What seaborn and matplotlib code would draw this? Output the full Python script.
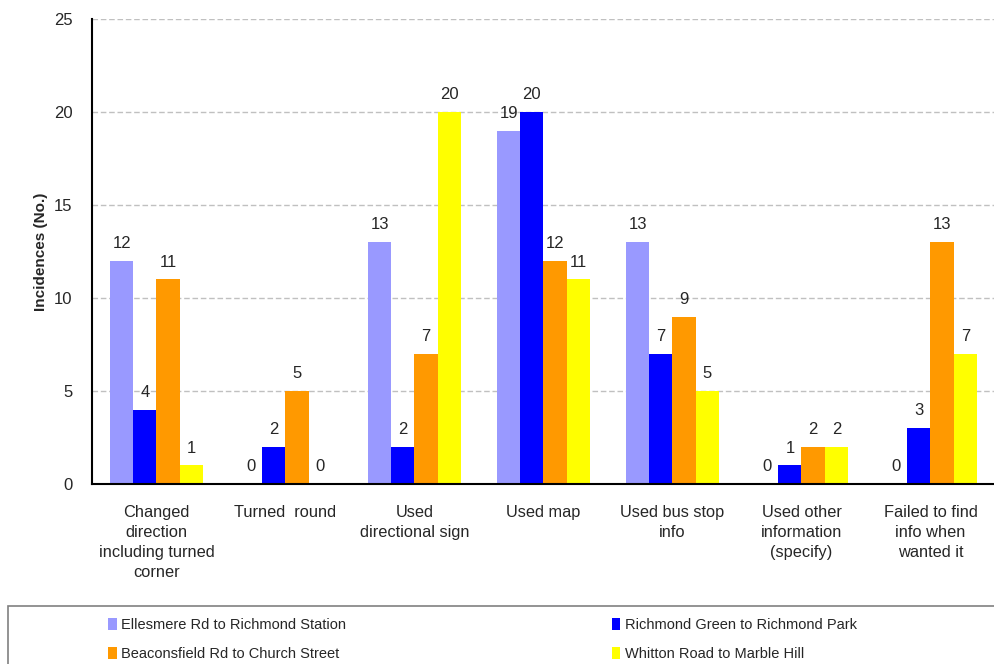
import matplotlib
matplotlib.use("Agg")
import matplotlib.pyplot as plt
import seaborn as sns
import pandas as pd
import numpy as np
from matplotlib.patches import Patch, Rectangle

categories = ["Changed\ndirection\nincluding turned\ncorner", "Turned  round",
              "Used\ndirectional sign", "Used map", "Used bus stop\ninfo",
              "Used other\ninformation\n(specify)", "Failed to find\ninfo when\nwanted it"]
series = ["Ellesmere Rd to Richmond Station", "Richmond Green to Richmond Park",
          "Beaconsfield Rd to Church Street", "Whitton Road to Marble Hill"]
ellesmere = [12, 0, 13, 19, 13, 0, 0]
richmond_green = [4, 2, 2, 20, 7, 1, 3]
beaconsfield = [11, 5, 7, 12, 9, 2, 13]
whitton = [1, 0, 20, 11, 5, 2, 7]
colors = ["#9999FF", "#0000FF", "#FF9900", "#FFFF00"]
yticks = [0, 5, 10, 15, 20, 25]

sns.set_style("white")
plt.rcParams['font.family'] = ['Liberation Sans', 'DejaVu Sans']

rows = []
for s, vals in zip(series, [ellesmere, richmond_green, beaconsfield, whitton]):
    for c, v in zip(categories, vals):
        rows.append({"cat": c, "series": s, "value": v})
df = pd.DataFrame(rows)

fig = plt.figure(figsize=(9.95, 6.64), dpi=100)
ax = fig.add_axes([92/995, (664-484)/664, (995-92)/995, (484-19)/664])
sns.barplot(data=df, x="cat", y="value", hue="series", palette=colors,
            width=0.72, gap=0, ax=ax, legend=False, saturation=1, edgecolor="none")

for cont in ax.containers:
    ax.bar_label(cont, fmt="%d", padding=7, fontsize=12)

ax.set_ylim(0, 25)
ax.set_yticks(yticks)
ax.set_xlim(-0.5, 6.5)
ax.set_xticks(np.arange(-0.5, 7, 1))
ax.set_xticklabels([])
ax.set_xticks(np.arange(7), minor=True)
ax.set_xticklabels(categories, minor=True, fontsize=11.8)
ax.tick_params(axis="x", which="minor", length=0, pad=15)
ax.tick_params(axis="x", which="major", length=5, width=1, direction="out", color="black")
ax.tick_params(axis="y", length=6, width=1, direction="out", color="black", labelsize=12, pad=8)
for lab in ax.get_xticklabels(minor=True):
    lab.set_verticalalignment("top")
    lab.set_linespacing(1.42)
ax.set_xlabel("")
ax.set_ylabel("Incidences (No.)", fontsize=11, fontweight="bold", labelpad=4)
ax.yaxis.grid(True, linestyle=(0, (4, 2)), color="#C0C0C0", linewidth=1)
ax.set_axisbelow(True)
for sp in ["top", "right"]:
    ax.spines[sp].set_visible(False)
for sp in ["left", "bottom"]:
    ax.spines[sp].set_color("black")
    ax.spines[sp].set_linewidth(1.5)

# legend box
fig.patches.append(Rectangle((8/995, -10/664), 1.0, (664-606+10)/664, transform=fig.transFigure,
                             facecolor="white", edgecolor="#808080", linewidth=1.2, zorder=0))
order = [0, 2, 1, 3]
handles = [Patch(facecolor=colors[i], edgecolor="none") for i in order]
labels = [series[i] for i in order]
leg = fig.legend(handles, labels, loc="upper left", ncol=2,
                 bbox_to_anchor=(108/995, 1 - 618/664),
                 frameon=False, fontsize=10.5,
                 handlelength=0.6, handleheight=0.9, handletextpad=0.3,
                 borderaxespad=0, borderpad=0, labelspacing=1.0, columnspacing=18.2)
fig.savefig("out.png", dpi=100)
